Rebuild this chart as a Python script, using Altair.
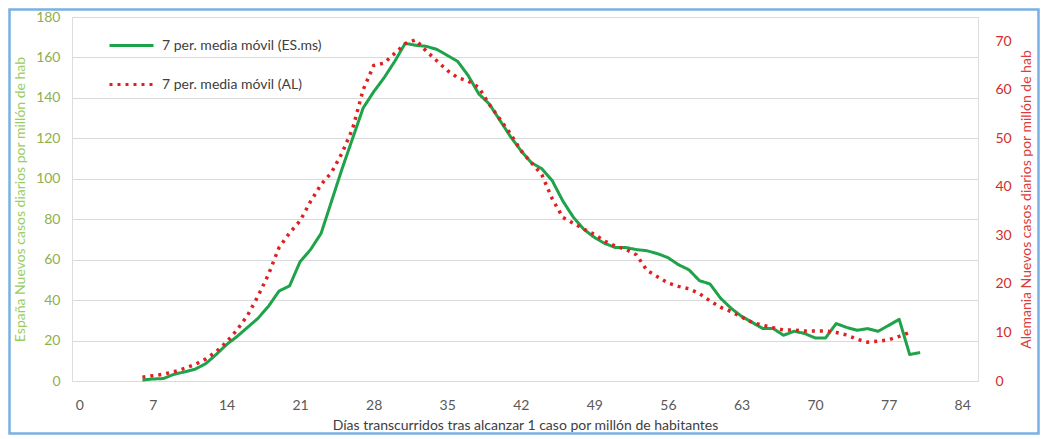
import altair as alt
import pandas as pd

# ---- data ----
days_es = list(range(6, 81))
es_values = [0.5, 1, 1.2, 3.3, 4.5, 5.8, 8.5, 13, 18, 22,
             26.5, 31, 37, 44.5, 47, 59, 65, 73, 89, 105,
             120, 135, 143, 150, 158, 167, 166, 165.5, 164, 161,
             158, 151, 142, 137, 129, 121, 114, 108, 105, 99,
             89, 81, 75, 71, 68, 66, 66, 65, 64.4, 63,
             61, 57.5, 55, 49.6, 48, 41, 36, 32, 29, 26,
             26, 22.6, 24.6, 23.5, 21.3, 21.3, 28.4, 26.5, 25.1, 25.9,
             24.6, 27.5, 30.5, 13.1, 14.1]
days_al = list(range(6, 80))
al_values = [0.8, 1.1, 1.4, 1.9, 2.6, 3.4, 4.5, 6, 8, 10.5,
             13.5, 17.5, 22, 27.5, 30.5, 33, 37, 40.5, 43, 47,
             52, 60, 65, 65.5, 67.5, 69.5, 70.3, 68, 66, 64,
             62.5, 61.8, 60.5, 57, 54, 51, 47.5, 45, 42.5, 37.5,
             33.7, 32.5, 31.3, 30.2, 28.8, 27.8, 27.1, 26, 22.8, 21.5,
             20.2, 19.5, 19, 18, 16.5, 15.2, 14.3, 13.2, 12.1, 11.5,
             11, 10.5, 10.5, 10.3, 10.3, 10.3, 10, 9.5, 8.6, 8,
             8.2, 8.5, 9.2, 10]
x_ticks = [0, 7, 14, 21, 28, 35, 42, 49, 56, 63, 70, 77, 84]
left_ticks = [0, 20, 40, 60, 80, 100, 120, 140, 160, 180]
right_ticks = [0, 10, 20, 30, 40, 50, 60, 70]

label_es = "7 per. media móvil (ES.ms)"
label_al = "7 per. media móvil (AL)"
x_title = "Días transcurridos tras alcanzar 1 caso por millón de habitantes"
left_title = "España Nuevos casos diarios por millón de hab"
right_title = "Alemania Nuevos casos diarios por millón de hab"

df = pd.concat([
    pd.DataFrame({"dia": days_es, "valor": es_values, "serie": label_es}),
    pd.DataFrame({"dia": days_al, "valor": al_values, "serie": label_al}),
], ignore_index=True)

FONT = "Lato"
GREEN = "#1fa34a"
RED = "#e02020"

x_enc = alt.X(
    "dia:Q",
    scale=alt.Scale(domain=[-0.7, 85.5], nice=False, zero=False),
    axis=alt.Axis(values=x_ticks, title=x_title, grid=False, domain=False, ticks=False,
                  labelColor="#595959", labelFontSize=14, labelPadding=17, labelFont=FONT,
                  titleColor="#404040", titleFontSize=14, titleFontWeight="normal",
                  titlePadding=6, titleFont=FONT),
)

legend_cfg = dict(title=None, orient="none", legendX=36, legendY=5, symbolType="stroke",
                  symbolSize=1936, symbolStrokeWidth=3, labelFontSize=14, labelColor="#404040",
                  labelFont=FONT, rowPadding=8, labelOffset=7)

color_enc = alt.Color("serie:N", scale=alt.Scale(domain=[label_es, label_al], range=[GREEN, RED]),
                      legend=alt.Legend(**legend_cfg))
dash_enc = alt.StrokeDash("serie:N", scale=alt.Scale(domain=[label_es, label_al], range=[[1, 0], [3, 5]]),
                          legend=alt.Legend(**legend_cfg))

es_line = alt.Chart(df).transform_filter(alt.datum.serie == label_es).mark_line(
    strokeWidth=3, strokeJoin="round"
).encode(
    x=x_enc,
    y=alt.Y("valor:Q", scale=alt.Scale(domain=[0, 180], nice=False),
            axis=alt.Axis(values=left_ticks, orient="left", title=left_title, grid=True,
                          gridColor="#d9d9d9", domain=False, ticks=False,
                          labelColor="#8faf4f", labelFontSize=14, labelPadding=12, labelFont=FONT,
                          titleColor="#9acd62", titleFontSize=14, titleFontWeight="normal",
                          titlePadding=8, titleFont=FONT)),
    color=color_enc,
    strokeDash=dash_enc,
)

al_line = alt.Chart(df).transform_filter(alt.datum.serie == label_al).mark_line(
    strokeWidth=3.5
).encode(
    x=x_enc,
    y=alt.Y("valor:Q", scale=alt.Scale(domain=[0, 75], nice=False),
            axis=alt.Axis(values=right_ticks, orient="right", title=right_title, grid=False,
                          domain=False, ticks=False, titleAngle=270, titleBaseline="top",
                          labelColor="#d22b2b", labelFontSize=14, labelPadding=17, labelFont=FONT,
                          titleColor="#e03a3a", titleFontSize=14, titleFontWeight="normal",
                          titlePadding=8, titleFont=FONT)),
    color=color_enc,
    strokeDash=dash_enc,
)

frame = alt.Chart(pd.DataFrame({"k": [0]})).mark_rect(
    fillOpacity=0, stroke="#7ab0e3", strokeWidth=2.5
).encode(
    x=alt.value(-62.5), x2=alt.value(966.5), y=alt.value(-7.5), y2=alt.value(416.5)
)

chart = alt.layer(frame, es_line, al_line).resolve_scale(y="independent").properties(
    width=906, height=364,
    autosize=alt.AutoSizeParams(type="none"),
    padding={"left": 64, "top": 9, "right": 62, "bottom": 54},
).configure_view(stroke=None).configure(background="white", font=FONT)

chart.save("out.html", embed_options={"renderer": "svg", "actions": False})
